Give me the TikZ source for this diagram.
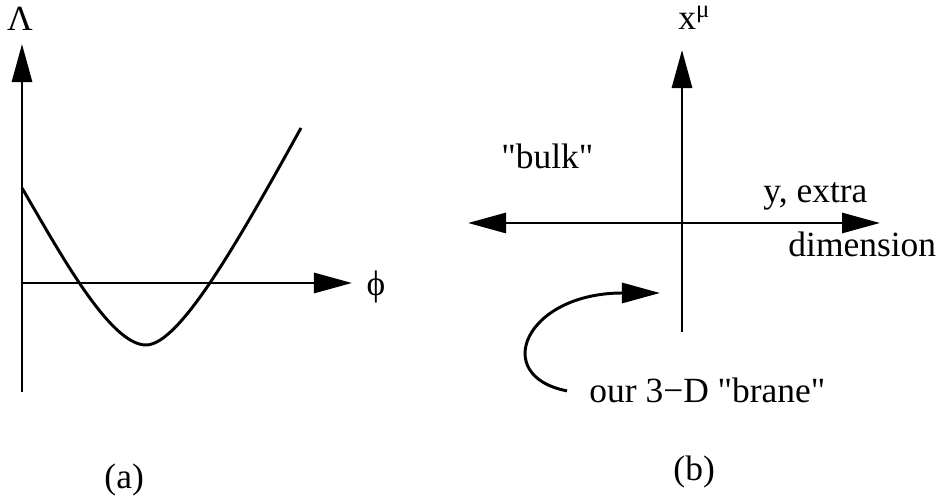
\documentclass[tikz,border=0pt]{standalone}
\usepackage{fontspec}
\usepackage{tikz}
\usetikzlibrary{arrows.meta}
\newfontfamily\labelfont{Liberation Serif}

\tikzset{
  lbl/.style={inner sep=0pt, font=\labelfont\fontsize{25.2}{30}\selectfont},
  axis/.style={line width=2.1pt}
}

\begin{document}
\begin{tikzpicture}[x=0.025cm, y=0.025cm, line width=2.1pt,
    >={Triangle[length=0.95cm, width=0.5cm]}]
\useasboundingbox (0,0) rectangle (940,498);

% (a) potential
\coordinate (oa) at (22,215);
\coordinate (va) at (22,454);
\coordinate (ba) at (22,106);
\coordinate (ha) at (352,215);
\draw[axis, ->] (ba) -- (va);
\draw[axis, ->] (oa) -- (ha);
\node[lbl] (lam) at (20,479) {Λ};
\node[lbl] (phi) at (376,211) {ϕ};

% curve
\draw (22,310) .. controls (60,245) and (110,153) .. (146,153)
    .. controls (180,153) and (240,260) .. (301,370);
\node[lbl, anchor=base west] (capa) at (103,9) {(a)};

% (b) bulk and brane
\coordinate (vb) at (682,448);
\coordinate (bb) at (682,166);
\coordinate (lb) at (468,275);
\coordinate (rb) at (880,275);
\draw[axis, ->] (bb) -- (vb);
\draw[axis, <->] (lb) -- (rb);
\node[lbl, anchor=base west] (xmu) at (677,468) {x\textsuperscript{μ}};
\node[lbl, anchor=base west] (bulk) at (500,329) {"bulk"};
\node[lbl, anchor=base west] (yex) at (762,295) {y, extra};
\node[lbl, anchor=base west] (dim) at (787,241) {dimension};
\node[lbl, anchor=base west] (brane) at (588,95) {our 3−D "brane"};
\coordinate (tip) at (660,205);

% arrow to the brane
\draw[->] ([xshift=-0.525cm]brane.west) .. controls (490,122) and (525,205) .. (tip);
\node[lbl, anchor=base west] (capb) at (672,17) {(b)};

\end{tikzpicture}
\end{document}
